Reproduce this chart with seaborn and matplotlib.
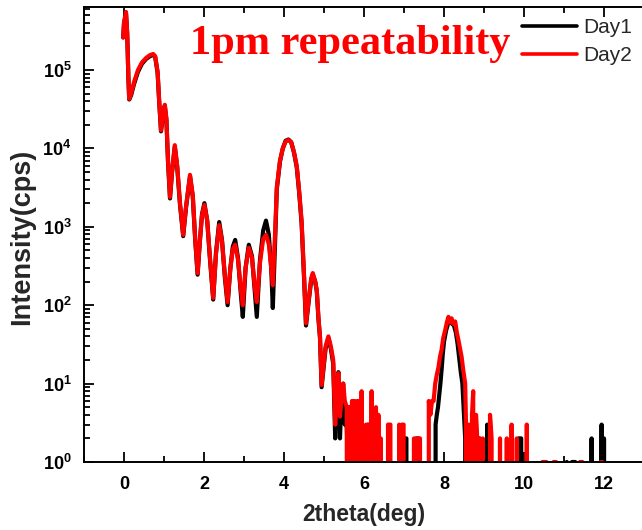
import numpy as np
import pandas as pd
import matplotlib
matplotlib.use("Agg")
import matplotlib.pyplot as plt
import seaborn as sns
from matplotlib.ticker import FixedLocator, FuncFormatter, LogLocator, NullFormatter, MultipleLocator

# ---------------- data ----------------
day2_x = [-0.02, 0.00, 0.05, 0.08, 0.11, 0.13, 0.18, 0.25, 0.35, 0.45, 0.55, 0.65, 0.73, 0.78, 0.84, 0.88,
          0.925, 0.97, 1.02, 1.06, 1.10, 1.15, 1.20, 1.27, 1.33, 1.40, 1.48, 1.55, 1.65, 1.72, 1.78, 1.84,
          1.90, 1.95, 2.01, 2.08, 2.15, 2.23, 2.30, 2.38, 2.45, 2.52, 2.59, 2.66, 2.72, 2.78, 2.85, 2.92,
          2.97, 3.04, 3.12, 3.20, 3.27, 3.32, 3.40, 3.48, 3.55, 3.62, 3.68, 3.72, 3.78, 3.82, 3.90, 3.97,
          4.04, 4.11, 4.18, 4.25, 4.32, 4.38, 4.44, 4.50, 4.55, 4.62, 4.68, 4.72, 4.78, 4.82, 4.86, 4.90,
          4.94, 4.98, 5.04, 5.11, 5.17, 5.23, 5.28, 5.32, 5.36, 5.40, 5.44, 5.48, 5.52, 5.57,
          5.60, 5.63, 5.66, 5.70, 5.73, 5.76, 5.80, 5.83, 5.86, 5.89, 5.94, 5.97, 6.05, 6.08, 6.11, 6.14,
          6.19, 6.22, 6.27, 6.30, 6.33, 6.36, 6.39, 6.42, 6.45, 6.58, 6.60, 6.66, 6.69, 6.85, 6.88, 6.91,
          6.95, 6.99, 7.02, 7.22, 7.25, 7.30, 7.33, 7.40, 7.44, 7.60, 7.62, 7.66, 7.70, 7.74, 7.78, 7.82,
          7.86, 7.90, 7.94, 7.98, 8.03, 8.07, 8.11, 8.15, 8.19, 8.23, 8.28, 8.32, 8.36, 8.40, 8.44, 8.48,
          8.53, 8.55, 8.58, 8.62, 8.65, 8.70, 8.73, 8.76, 8.80, 8.83, 8.86, 8.90, 8.93, 8.97, 9.00, 9.12,
          9.15, 9.19, 9.22, 9.38, 9.40, 9.43, 9.55, 9.57, 9.60, 9.66, 9.69, 9.72, 9.80, 9.82, 9.85, 10.04,
          10.07, 10.10, 10.44, 10.46, 10.56, 10.58, 10.72, 10.74, 10.80, 10.82, 11.38, 11.40, 11.46, 11.48,
          11.90, 11.92, 11.96, 11.98]
day2_y = [2.6e5, 4.0e5, 5.5e5, 3.0e5, 8.0e4, 4.3e4, 5.0e4, 7.0e4, 1.0e5, 1.25e5, 1.42e5, 1.55e5, 1.6e5, 1.5e5, 9.5e4, 4.0e4,
          1.7e4, 2.6e4, 3.6e4, 2.4e4, 7.0e3, 2.4e3, 5.0e3, 1.1e4, 6.0e3, 2.0e3, 790, 1.8e3, 4.6e3, 2.5e3, 700, 257,
          700, 1.4e3, 1.9e3, 1.2e3, 400, 124, 450, 1.05e3, 650, 250, 110, 300, 520, 590, 380, 160,
          100, 300, 540, 400, 170, 110, 350, 700, 790, 600, 300, 180, 900, 3.2e3, 7.0e3, 1.0e4,
          1.22e4, 1.28e4, 1.2e4, 9.0e3, 5.9e3, 2.8e3, 1.2e3, 250, 59, 120, 220, 257, 200, 155, 71, 40,
          9.6, 15, 30, 40, 30, 20, 3, 8, 13.6, 3.8, 7, 10, 6, 5,
          0, 5, 0, 6, 3, 6, 0, 6, 6, 0, 8, 0, 3, 0, 3, 0,
          8, 0, 4, 5, 0, 4, 0, 2, 0, 0, 3, 3, 0, 0, 3, 0,
          3, 3, 0, 0, 2, 0, 2, 2, 0, 0, 6, 4, 6, 6, 10, 13,
          16, 22, 27, 38, 48, 60, 71, 60, 68, 58, 62, 45, 36, 28, 22, 15,
          10, 3, 0, 3, 0, 4, 8, 0, 4, 2, 0, 2, 0, 2, 0, 0,
          4, 2, 0, 0, 2, 0, 0, 2, 0, 0, 3, 0, 0, 2, 0, 0,
          3, 0, 0, 1, 1, 0, 0, 1, 1, 0, 0, 1, 1, 0,
          0, 1, 1, 0]

day1_x = [-0.02, 0.00, 0.05, 0.08, 0.11, 0.13, 0.18, 0.25, 0.35, 0.45, 0.55, 0.65, 0.73, 0.78, 0.84, 0.88,
          0.925, 0.97, 1.02, 1.06, 1.10, 1.15, 1.20, 1.27, 1.33, 1.40, 1.48, 1.55, 1.65, 1.72, 1.78, 1.84,
          1.90, 1.95, 2.01, 2.08, 2.15, 2.23, 2.30, 2.38, 2.45, 2.52, 2.59, 2.66, 2.72, 2.78, 2.85, 2.92,
          2.97, 3.04, 3.12, 3.20, 3.27, 3.32, 3.40, 3.48, 3.55, 3.62, 3.68, 3.72, 3.78, 3.82, 3.90, 3.97,
          4.04, 4.11, 4.18, 4.25, 4.32, 4.38, 4.44, 4.50, 4.55, 4.62, 4.68, 4.72, 4.78, 4.82, 4.86, 4.90,
          4.94, 4.98, 5.04, 5.11, 5.17, 5.23, 5.28, 5.33, 5.36, 5.40, 5.44, 5.48, 5.52, 5.55,
          5.58, 5.61, 5.65, 5.68, 5.72, 5.75, 5.80, 5.83, 5.90, 5.93, 6.10, 6.13, 6.20, 6.23, 6.30, 6.33,
          6.60, 6.62, 6.65, 7.00, 7.03, 7.06, 7.09, 7.28, 7.30, 7.36, 7.39, 7.76, 7.79, 7.82, 7.85, 7.88,
          7.91, 7.94, 7.97, 8.00, 8.05, 8.10, 8.15, 8.20, 8.25, 8.30, 8.34, 8.38, 8.42, 8.46, 8.50, 8.53,
          8.56, 8.60, 8.66, 8.70, 8.74, 8.78, 8.82, 8.88, 8.91, 9.05, 9.08, 9.11, 9.85, 9.87, 9.93, 9.96,
          11.05, 11.07, 11.09, 11.18, 11.20, 11.28, 11.30, 11.66, 11.69, 11.72, 11.92, 11.94, 11.97, 12.00,
          12.02]
day1_y = [2.6e5, 3.9e5, 5.3e5, 2.9e5, 7.8e4, 4.2e4, 4.8e4, 6.6e4, 9.5e4, 1.2e5, 1.38e5, 1.5e5, 1.56e5, 1.46e5, 9.2e4, 3.9e4,
          1.65e4, 2.5e4, 3.5e4, 2.3e4, 6.8e3, 2.3e3, 4.9e3, 1.05e4, 5.8e3, 1.9e3, 760, 1.75e3, 4.4e3, 2.4e3, 680, 245,
          680, 1.45e3, 2.0e3, 1.2e3, 380, 118, 470, 1.15e3, 680, 230, 100, 300, 560, 680, 400, 140,
          71, 300, 590, 420, 150, 71, 380, 900, 1.2e3, 800, 300, 92, 700, 3.0e3, 6.8e3, 1.0e4,
          1.25e4, 1.3e4, 1.2e4, 8.8e3, 5.7e3, 2.7e3, 1.1e3, 230, 55, 115, 210, 245, 200, 150, 68, 38,
          9, 14, 28, 38, 28, 18, 2, 10, 14, 2, 8, 10, 3, 5,
          2, 0, 5, 0, 6, 0, 5, 0, 6, 0, 3, 0, 5, 0, 4, 0,
          0, 2, 0, 0, 2, 2, 0, 0, 2, 2, 0, 0, 3, 4, 5, 7,
          10, 15, 24, 34, 47, 58, 62, 58, 55, 44, 32, 21, 14, 10, 4, 2,
          0, 2, 2, 0, 2, 0, 2, 2, 0, 0, 3, 0, 0, 2, 2, 0,
          0, 1, 0, 0, 1, 1, 0, 0, 2, 0, 0, 3, 0, 2,
          0]

series_names = ["Day1", "Day2"]
series_colors = ["black", "red"]
title_text = "1pm repeatability"
x_label = "2theta(deg)"
y_label = "Intensity(cps)"
x_ticks = [0, 2, 4, 6, 8, 10, 12]
y_exponents = [0, 1, 2, 3, 4, 5]

df = pd.concat([
    pd.DataFrame({"x": day1_x, "y": day1_y, "series": series_names[0]}),
    pd.DataFrame({"x": day2_x, "y": day2_y, "series": series_names[1]}),
], ignore_index=True)

# ---------------- style ----------------
sns.set_style("ticks")
plt.rcParams["font.family"] = ["Liberation Sans", "DejaVu Sans"]
plt.rcParams["mathtext.fontset"] = "custom"
plt.rcParams["mathtext.rm"] = "Liberation Sans"
plt.rcParams["mathtext.bf"] = "Liberation Sans:bold"

W, H = 642, 530
fig = plt.figure(figsize=(W / 100, H / 100), dpi=100)
ax = fig.add_axes([84 / W, 1 - 462 / H, (644 - 84) / W, (462 - 7) / H])

sns.lineplot(data=df, x="x", y="y", hue="series", palette=dict(zip(series_names, series_colors)),
             estimator=None, sort=False, linewidth=3.0, ax=ax, legend=True)

ax.set_yscale("log", nonpositive="clip")
ax.set_xlim(-1, 13)
ax.set_ylim(1, 10 ** ((462 - 7) / 78.4))

ax.xaxis.set_major_locator(FixedLocator(x_ticks))
ax.xaxis.set_minor_locator(MultipleLocator(1))
ax.yaxis.set_major_locator(FixedLocator([10.0 ** e for e in y_exponents]))
ax.yaxis.set_minor_locator(LogLocator(base=10, subs=np.arange(2, 10)))
ax.yaxis.set_minor_formatter(NullFormatter())
ax.yaxis.set_major_formatter(FuncFormatter(lambda v, p: r"$\mathbf{10^{%d}}$" % round(np.log10(v))))

ax.tick_params(axis="both", which="both", direction="in", top=True, right=False, width=1.3, colors="black")
ax.tick_params(axis="both", which="major", length=7, labelsize=13)
ax.tick_params(axis="both", which="minor", length=4)
ax.tick_params(axis="x", which="major", pad=10)
ax.tick_params(axis="y", which="major", pad=9)
for lab in ax.get_xticklabels():
    lab.set_fontweight("bold")

for s in ax.spines.values():
    s.set_linewidth(1.4)
    s.set_color("black")

ax.set_xlabel(x_label, fontsize=16.5, fontweight="bold", labelpad=7)
ax.set_ylabel(y_label, fontsize=19.5, fontweight="bold")
ax.yaxis.set_label_coords(-0.088, 0.495)

handles, labels = ax.get_legend_handles_labels()
leg = ax.legend(handles, labels, loc="upper left", bbox_to_anchor=(522 / W, 1 - 18 / H),
                bbox_transform=fig.transFigure, frameon=False, fontsize=15,
                handlelength=2.65, handletextpad=0.3, labelspacing=0.45, borderaxespad=0, borderpad=0)
for ln in leg.get_lines():
    ln.set_linewidth(2.6)

fig.text(190 / W, 1 - 44 / H, title_text, color="red", fontsize=30.5, fontweight="bold",
         family=["Liberation Serif", "DejaVu Serif"], ha="left", va="center")

fig.savefig("out.png", dpi=100)
